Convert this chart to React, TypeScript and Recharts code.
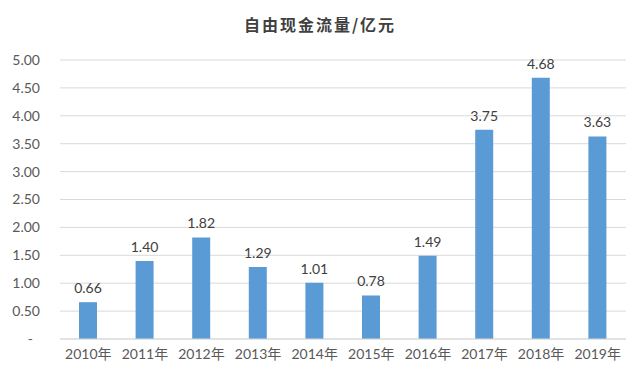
import React from 'react';
import { BarChart, Bar, XAxis, YAxis, CartesianGrid, LabelList } from 'recharts';

const categories = ['2010年', '2011年', '2012年', '2013年', '2014年', '2015年', '2016年', '2017年', '2018年', '2019年'];
const values = [0.66, 1.40, 1.82, 1.29, 1.01, 0.78, 1.49, 3.75, 4.68, 3.63];
const yTicks = [0, 0.5, 1, 1.5, 2, 2.5, 3, 3.5, 4, 4.5, 5];
const title = '自由现金流量/亿元';

const data = categories.map((c, i) => ({ name: c, value: values[i] }));
const font = "Lato, 'Noto Sans CJK SC', sans-serif";

const YTick = (props: any) => {
  const { x, y, payload } = props;
  const v = payload.value as number;
  return (
    <text x={v === 0 ? x - 7 : x} y={y} dy="0.355em" textAnchor="end" fontSize={14} fill="#595959" fontFamily={font}>
      {v === 0 ? '-' : v.toFixed(2)}
    </text>
  );
};

export default function App() {
  return (
    <div style={{ position: 'absolute', left: 0, top: 0, width: 640, height: 378, background: '#fff' }}>
      <div style={{ position: 'absolute', left: 0, top: 12, width: 640, textAlign: 'center', fontFamily: "'Noto Sans CJK SC', sans-serif", fontWeight: 'bold', fontSize: 16, letterSpacing: 2, color: '#404040' }}>
        {title}
      </div>
      <BarChart width={640} height={378} data={data} margin={{ top: 60, right: 14, left: 0, bottom: 9 }}>
        <CartesianGrid vertical={false} stroke="#d9d9d9" />
        <XAxis dataKey="name" tickLine={false} axisLine={{ stroke: '#d9d9d9' }} tickSize={0} tickMargin={10} height={30}
          tick={{ fontSize: 14, fill: '#595959', fontFamily: font }} interval={0} />
        <YAxis width={60} domain={[0, 5]} ticks={yTicks} axisLine={false} tickLine={false} tickSize={0} tickMargin={20}
          tick={<YTick />} />
        <Bar dataKey="value" fill="#5B9BD5" barSize={18} isAnimationActive={false}>
          <LabelList dataKey="value" position="top" offset={9} formatter={(v: number) => v.toFixed(2)}
            style={{ fontSize: 14, fill: '#404040', fontFamily: font }} />
        </Bar>
      </BarChart>
    </div>
  );
}
